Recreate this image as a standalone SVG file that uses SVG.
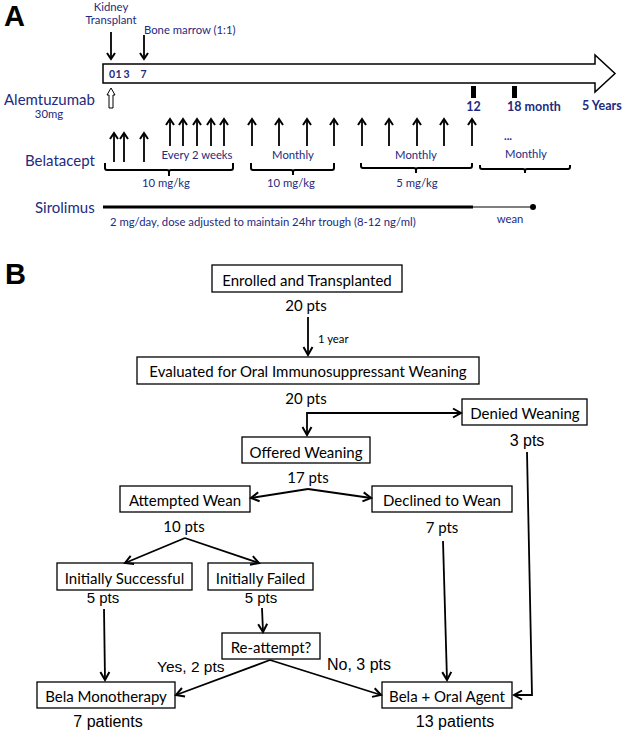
<svg xmlns="http://www.w3.org/2000/svg" width="623" height="735" viewBox="0 0 623 735">
<style>
.box{fill:#fff;stroke:#000;stroke-width:1.3}
.bt{font-family:Lato,"Open Sans",sans-serif;font-size:15px;text-anchor:middle;fill:#000}
.ar{font-family:"Liberation Sans",Arial,sans-serif;fill:#000}
.c{fill:none;stroke:#000;stroke-width:1.8}
.nv{font-family:Lato,"Open Sans",sans-serif;fill:#232a80}
.sm{font-size:11.3px}
.md{font-size:15px}
.bd{font-weight:bold}
.mid{text-anchor:middle}
.br{fill:none;stroke:#000;stroke-width:2}
.lab{font-family:"Liberation Sans",Arial,sans-serif;font-weight:bold;font-size:29px;fill:#000}
</style>
<defs>
<marker id="ah" viewBox="-10 -6 12 12" markerWidth="12" markerHeight="12" refX="0" refY="0" orient="auto" markerUnits="userSpaceOnUse">
<path d="M-8,-4.5 L0,0 L-8,4.5" fill="none" stroke="#000" stroke-width="2"/>
</marker>
<marker id="ahA" viewBox="-10 -6 12 12" markerWidth="12" markerHeight="12" refX="0" refY="0" orient="auto" markerUnits="userSpaceOnUse">
<path d="M-6,-4 L0,0 L-6,4" fill="none" stroke="#000" stroke-width="2"/>
</marker>
</defs>
<rect width="623" height="735" fill="#fff"/>

<!-- Panel A -->
<text class="lab" x="4" y="26">A</text>
<g id="timeline">
<polygon points="103,64 595,64 595,55 615,73.5 595,92 595,83 103,83" fill="#fff" stroke="#000" stroke-width="1.5"/>
<text class="nv bd mid" font-size="10.5" x="112" y="78">0</text>
<text class="nv bd mid" font-size="10.5" x="118.5" y="78">1</text>
<text class="nv bd mid" font-size="10.5" x="126.5" y="78">3</text>
<text class="nv bd mid" font-size="10.5" x="143.5" y="78">7</text>
<rect x="471" y="86" width="5" height="12" fill="#000"/>
<rect x="512" y="86" width="5" height="12" fill="#000"/>
<text class="nv bd mid" font-size="12.5" x="473.5" y="111">12</text>
<text class="nv bd" font-size="12.5" x="507" y="111">18 month</text>
<text class="nv bd" font-size="12.5" x="582" y="110">5 Years</text>
</g>
<g id="kidney">
<text class="nv sm mid" x="111" y="11">Kidney</text>
<text class="nv sm mid" x="111" y="24">Transplant</text>
</g>
<g id="bonemarrow">
<text class="nv sm" x="144" y="34">Bone marrow (1:1)</text>
</g>
<g id="alemtuzumab">
<text class="nv md" x="4" y="105">Alemtuzumab</text>
<text class="nv sm mid" x="49" y="118">30mg</text>
<polygon points="111,88 115,95 113,95 113,108 109,108 109,95 107,95" fill="#fff" stroke="#000" stroke-width="1"/>
</g>
<g id="belatacept">
<text class="nv md" x="25" y="166">Belatacept</text>
<text class="nv sm mid" x="197" y="159">Every 2 weeks</text>
<text class="nv sm mid" x="293" y="159">Monthly</text>
<text class="nv sm mid" x="416" y="159">Monthly</text>
<text class="nv sm mid bd" x="508" y="140">...</text>
<text class="nv sm mid" x="526" y="158">Monthly</text>
<text class="nv sm mid" x="166" y="187">10 mg/kg</text>
<text class="nv sm mid" x="291" y="187">10 mg/kg</text>
<text class="nv sm mid" x="417" y="187">5 mg/kg</text>
<path class="br" d="M105,163 V168 Q105,170 107,170 H167 Q169,170 169,172 V176 M169,172 Q169,170 171,170 H231 Q233,170 233,168 V163"/>
<path class="br" d="M251,163 V168 Q251,170 253,170 H291 Q293,170 293,172 V175 M293,172 Q293,170 295,170 H332 Q334,170 334,168 V163"/>
<path class="br" d="M361,163 V166 Q361,168 363,168 H414 Q416,168 416,170 V173 M416,170 Q416,168 418,168 H470 Q472,168 472,166 V163"/>
<path class="br" d="M480,165 V167 Q480,169 482,169 H523 Q525,169 525,171 V173 M525,171 Q525,169 527,169 H568 Q570,169 570,167 V165"/>
</g>
<g id="sirolimus">
<text class="nv md" x="35" y="213">Sirolimus</text>
<line x1="103" y1="207" x2="473" y2="207" stroke="#000" stroke-width="3"/>
<line x1="473" y1="207" x2="533" y2="207" stroke="#000" stroke-width="1.2"/>
<circle cx="533" cy="207" r="3" fill="#000"/>
<text class="nv sm" x="110" y="226">2 mg/day, dose adjusted to maintain 24hr trough (8-12 ng/ml)</text>
<text class="nv sm mid" x="510" y="223">wean</text>
</g>
<g id="connectors-A" class="c" marker-end="url(#ahA)">
<line x1="111" y1="32" x2="111" y2="59"/>
<line x1="144" y1="35" x2="144" y2="59"/>
<line x1="114" y1="162" x2="114" y2="133"/>
<line x1="124" y1="162" x2="124" y2="133"/>
<line x1="144" y1="162" x2="144" y2="133"/>
<line x1="170" y1="146" x2="170" y2="119"/>
<line x1="183" y1="146" x2="183" y2="119"/>
<line x1="197" y1="146" x2="197" y2="119"/>
<line x1="211" y1="146" x2="211" y2="119"/>
<line x1="224" y1="146" x2="224" y2="119"/>
<line x1="252" y1="146" x2="252" y2="119"/>
<line x1="279" y1="146" x2="279" y2="119"/>
<line x1="307" y1="146" x2="307" y2="119"/>
<line x1="334" y1="146" x2="334" y2="119"/>
<line x1="362" y1="146" x2="362" y2="119"/>
<line x1="389" y1="146" x2="389" y2="119"/>
<line x1="417" y1="146" x2="417" y2="119"/>
<line x1="444" y1="146" x2="444" y2="119"/>
<line x1="472" y1="146" x2="472" y2="119"/>
</g>

<!-- Panel B -->
<text class="lab" x="5" y="284">B</text>
<g id="enrolled">
<rect class="box" x="212" y="265" width="190" height="27"/>
<text class="bt" x="307" y="286">Enrolled and Transplanted</text>
<text class="bt" x="306" y="311">20 pts</text>
</g>
<text font-family="Lato, 'Open Sans', sans-serif" font-size="11.3" x="318" y="343" fill="#000">1 year</text>
<g id="evaluated">
<rect class="box" x="137" y="357" width="342" height="27"/>
<text class="bt" x="308" y="377">Evaluated for Oral Immunosuppressant Weaning</text>
<text class="bt" x="306" y="404">20 pts</text>
</g>
<g id="denied">
<rect class="box" x="462" y="399" width="125" height="26"/>
<text class="bt" x="525" y="419">Denied Weaning</text>
<text class="ar mid" font-size="16" x="527" y="446">3 pts</text>
</g>
<g id="offered">
<rect class="box" x="242" y="437" width="128" height="26"/>
<text class="bt" x="306" y="458">Offered Weaning</text>
<text class="bt" x="308" y="483">17 pts</text>
</g>
<g id="attempted">
<rect class="box" x="120" y="486" width="130" height="26"/>
<text class="bt" x="185" y="506">Attempted Wean</text>
<text class="bt" x="184" y="532">10 pts</text>
</g>
<g id="declined">
<rect class="box" x="372" y="486" width="140" height="26"/>
<text class="bt" x="442" y="506">Declined to Wean</text>
<text class="bt" x="442" y="533">7 pts</text>
</g>
<g id="successful">
<rect class="box" x="57" y="563" width="135" height="27"/>
<text class="bt" x="124.5" y="584">Initially Successful</text>
<text class="ar mid" font-size="15" x="103" y="603">5 pts</text>
</g>
<g id="failed">
<rect class="box" x="208" y="563" width="105" height="27"/>
<text class="bt" x="260.5" y="584">Initially Failed</text>
<text class="ar mid" font-size="15" x="261" y="603">5 pts</text>
</g>
<g id="reattempt">
<rect class="box" x="222" y="633" width="98" height="26"/>
<text class="bt" x="271" y="653">Re-attempt?</text>
</g>
<g id="monotherapy">
<rect class="box" x="37" y="682" width="138" height="26"/>
<text class="bt" x="106" y="702">Bela Monotherapy</text>
<text class="ar mid" font-size="16" x="108" y="727">7 patients</text>
</g>
<g id="oralagent">
<rect class="box" x="382" y="682" width="130" height="26"/>
<text class="bt" x="447" y="702">Bela + Oral Agent</text>
<text class="ar mid" font-size="16" x="455" y="727">13 patients</text>
</g>
<g id="connectors-B" class="c" marker-end="url(#ah)">
<line x1="308" y1="317" x2="308" y2="355"/>
<line x1="307" y1="413" x2="461" y2="413"/>
<line x1="307" y1="412" x2="307" y2="435"/>
<line x1="308" y1="489" x2="251" y2="498"/>
<line x1="308" y1="489" x2="371" y2="498"/>
<line x1="185" y1="538" x2="125" y2="563"/>
<line x1="185" y1="538" x2="259" y2="563"/>
<line x1="104" y1="609" x2="105" y2="680"/>
<line x1="262" y1="608" x2="263" y2="632"/>
<line x1="270" y1="660" x2="176" y2="695"/>
<line x1="270" y1="660" x2="381" y2="695"/>
<line x1="443" y1="541" x2="447" y2="680"/>
<polyline points="527,452 532,695 514,695"/>
</g>
<text class="ar" font-size="15.5" x="157" y="672">Yes, 2 pts</text>
<text class="ar" font-size="16" x="327" y="670">No, 3 pts</text>
</svg>
